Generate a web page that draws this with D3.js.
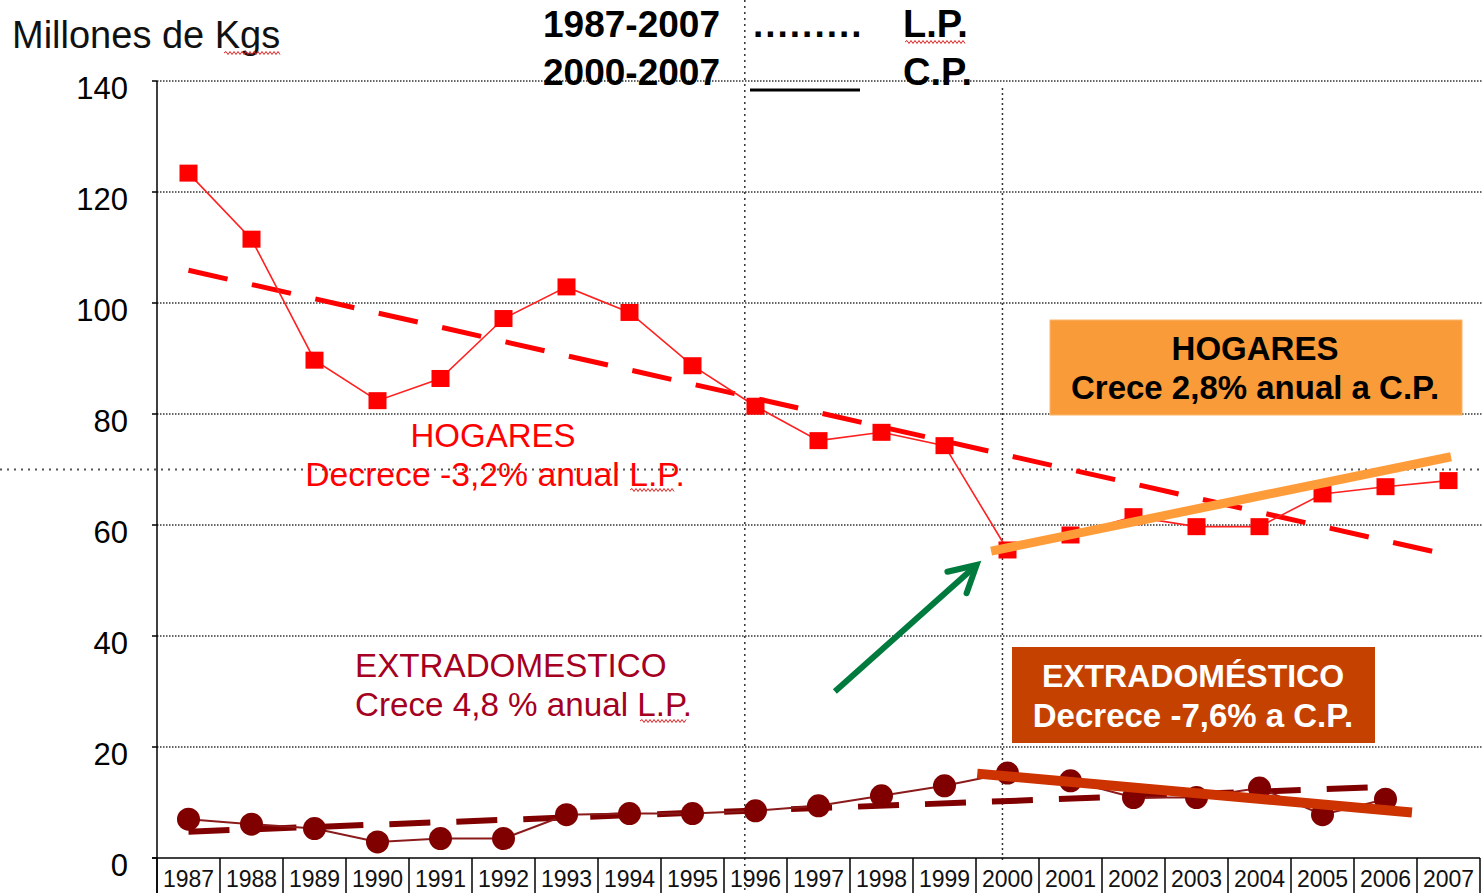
<!DOCTYPE html>
<html>
<head>
<meta charset="utf-8">
<script src="https://cdn.jsdelivr.net/npm/d3@7"></script>
<style>
  html, body { margin: 0; padding: 0; background: #fff; }
  svg { display: block; font-family: "Liberation Sans", Arial, sans-serif; }
</style>
</head>
<body>
<svg id="chart" width="1483" height="893"></svg>
<script>
// ---------------- DATA ----------------
const years = ["1987","1988","1989","1990","1991","1992","1993","1994","1995","1996","1997",
               "1998","1999","2000","2001","2002","2003","2004","2005","2006","2007"];
const hogares = [123.4,111.5,89.7,82.4,86.4,97.2,102.9,98.3,88.7,81.4,75.2,
                 76.7,74.3,55.5,58.2,61.5,59.7,59.7,65.6,66.9,68.0];
const extradomestico = [7.0,6.1,5.3,2.9,3.5,3.5,7.8,8.0,8.0,8.5,9.4,
                        11.2,13.0,15.3,13.9,10.9,10.9,12.6,7.8,10.6,null];
const yTicks = [0,20,40,60,80,100,120,140];
// trend lines [year, value]
const hogaresLP = [[1987,105.9],[2007,54.6]];
const hogaresCP = [[1999.74,55.3],[2007.04,72.3]];
const extraLP = [[1987,4.75],[2006.1,12.85]];
const extraCP = [[1999.52,15.2],[2006.42,8.2]];
// annotation positions in data units [year, value]
const arrowTail = [1997.26, 30.0];
const arrowTip = [1999.51, 52.8];
const refLineValue = 70;
const refYears = [1995.83, 1999.92];

(function () {
// ---------------- SCALES ----------------
const svg = d3.select("#chart");
const W = 1483, H = 893;
const pLeft = 157, pRight = 1480, pTop = 81, pBottom = 858;

const x = d3.scaleBand().domain(years).range([pLeft, pRight]).padding(0);
const bw = x.bandwidth();
const xl = d3.scaleLinear().domain([1987, 2007])
  .range([x("1987") + bw / 2, x("2007") + bw / 2]);
const y = d3.scaleLinear().domain([0, 140]).range([pBottom, pTop]);

// ---------------- GRID ----------------
svg.append("g").selectAll("line").data(yTicks.filter(d => d > 0)).join("line")
  .attr("x1", pLeft).attr("x2", W)
  .attr("y1", d => y(d)).attr("y2", d => y(d))
  .attr("stroke", "#333").attr("stroke-width", 1.5)
  .attr("stroke-dasharray", "1.5,1.5");

// reference horizontal line (70)
svg.append("line")
  .attr("x1", 0).attr("x2", W)
  .attr("y1", y(refLineValue)).attr("y2", y(refLineValue))
  .attr("stroke", "#555").attr("stroke-width", 2)
  .attr("stroke-dasharray", "2,5");

// vertical dotted reference lines
svg.append("line")
  .attr("x1", xl(refYears[0])).attr("x2", xl(refYears[0]))
  .attr("y1", 0).attr("y2", H)
  .attr("stroke", "#333").attr("stroke-width", 1.5)
  .attr("stroke-dasharray", "2,4");
svg.append("line")
  .attr("x1", xl(refYears[1])).attr("x2", xl(refYears[1]))
  .attr("y1", 88).attr("y2", pBottom + 3)
  .attr("stroke", "#333").attr("stroke-width", 1.5)
  .attr("stroke-dasharray", "2,3");

// ---------------- AXES ----------------
const ax = svg.append("g").attr("stroke", "#000").attr("stroke-width", 1.5);
ax.append("line").attr("x1", pLeft).attr("x2", pLeft).attr("y1", pTop).attr("y2", H);
ax.append("line").attr("x1", pLeft - 5).attr("x2", pRight).attr("y1", pBottom).attr("y2", pBottom);
ax.selectAll(".tk").data(yTicks).join("line")
  .attr("x1", pLeft - 5).attr("x2", pLeft)
  .attr("y1", d => y(d)).attr("y2", d => y(d));
// category box separators
ax.selectAll(".sep").data(years.concat(["end"])).join("line")
  .attr("x1", (d, i) => pLeft + i * bw).attr("x2", (d, i) => pLeft + i * bw)
  .attr("y1", pBottom).attr("y2", H);

svg.append("g").selectAll("text").data(yTicks).join("text")
  .attr("x", 128).attr("y", d => y(d) + 18)
  .attr("text-anchor", "end")
  .attr("font-size", 31).attr("fill", "#000")
  .text(d => d);

svg.append("g").selectAll("text").data(years).join("text")
  .attr("x", d => x(d) + bw / 2).attr("y", 887)
  .attr("text-anchor", "middle")
  .attr("font-size", 23).attr("fill", "#111")
  .text(d => d);

// ---------------- TREND LP (dashed) ----------------
const tl = d3.line().x(d => xl(d[0])).y(d => y(d[1]));
svg.append("path").attr("d", tl(hogaresLP))
  .attr("fill", "none").attr("stroke", "#FF0000").attr("stroke-width", 5)
  .attr("stroke-dasharray", "40,25");
svg.append("path").attr("d", tl(extraLP))
  .attr("fill", "none").attr("stroke", "#800000").attr("stroke-width", 6)
  .attr("stroke-dasharray", "41,26");

// ---------------- DATA LINES ----------------
const dl = d3.line()
  .defined(d => d[1] != null)
  .x(d => x(d[0]) + bw / 2).y(d => y(d[1]));
svg.append("path").attr("d", dl(years.map((yr, i) => [yr, hogares[i]])))
  .attr("fill", "none").attr("stroke", "#FF2020").attr("stroke-width", 1.6);
svg.append("path").attr("d", dl(years.map((yr, i) => [yr, extradomestico[i]])))
  .attr("fill", "none").attr("stroke", "#8B1A1A").attr("stroke-width", 2);

// markers
svg.append("g").selectAll("rect").data(years.map((yr, i) => [yr, hogares[i]])).join("rect")
  .attr("x", d => x(d[0]) + bw / 2 - 9).attr("y", d => y(d[1]) - 8.5)
  .attr("width", 18).attr("height", 17)
  .attr("fill", "#FF0000");
svg.append("g").selectAll("circle")
  .data(years.map((yr, i) => [yr, extradomestico[i]]).filter(d => d[1] != null)).join("circle")
  .attr("cx", d => x(d[0]) + bw / 2).attr("cy", d => y(d[1]))
  .attr("r", 11.5).attr("fill", "#800000");

// ---------------- TREND CP (solid thick) ----------------
svg.append("path").attr("d", tl(hogaresCP))
  .attr("fill", "none").attr("stroke", "#FF9C3A").attr("stroke-width", 9);
svg.append("path").attr("d", tl(extraCP))
  .attr("fill", "none").attr("stroke", "#CC3300").attr("stroke-width", 10);

// ---------------- ANNOTATIONS ----------------
function wavy(x1, x2, yy) {
  let p = `M${x1},${yy}`;
  let up = true;
  for (let xx = x1 + 2; xx <= x2; xx += 2) {
    p += `L${xx},${yy + (up ? -1.5 : 1.5)}`;
    up = !up;
  }
  svg.append("path").attr("d", p).attr("fill", "none")
    .attr("stroke", "#E02020").attr("stroke-width", 1);
}

// title / unit
svg.append("text").attr("x", 12).attr("y", 48)
  .attr("font-size", 38).attr("fill", "#111").text("Millones de Kgs");
wavy(224, 281, 53);

// legend
const lg = svg.append("g").attr("font-weight", "bold").attr("font-size", 37).attr("fill", "#000");
lg.append("text").attr("x", 720).attr("y", 37).attr("text-anchor", "end").text("1987-2007");
lg.append("text").attr("x", 720).attr("y", 85).attr("text-anchor", "end").text("2000-2007");
lg.append("text").attr("x", 753).attr("y", 37).attr("letter-spacing", 2).text(".........");
lg.append("text").attr("x", 903).attr("y", 37).attr("font-size", 38).text("L.P.");
lg.append("text").attr("x", 903).attr("y", 85).attr("font-size", 38).text("C.P.");
svg.append("line").attr("x1", 750).attr("x2", 860).attr("y1", 90).attr("y2", 90)
  .attr("stroke", "#000").attr("stroke-width", 3);
wavy(905, 965, 42);

// HOGARES label
svg.append("text").attr("x", 493).attr("y", 447).attr("text-anchor", "middle")
  .attr("font-size", 33).attr("fill", "#FF0000").text("HOGARES");
svg.append("text").attr("x", 495).attr("y", 486).attr("text-anchor", "middle")
  .attr("font-size", 33.7).attr("fill", "#FF0000").text("Decrece -3,2% anual L.P.");
wavy(630, 674, 490);

// EXTRADOMESTICO label
svg.append("text").attr("x", 355).attr("y", 677)
  .attr("font-size", 33.2).attr("fill", "#A50021").text("EXTRADOMESTICO");
svg.append("text").attr("x", 355).attr("y", 716)
  .attr("font-size", 33.2).attr("fill", "#A50021").text("Crece 4,8 % anual L.P.");
wavy(640, 686, 721);

// orange box
const bx1 = svg.append("g");
bx1.append("rect").attr("x", 1050).attr("y", 320).attr("width", 412).attr("height", 95)
  .attr("fill", "#F99B38").attr("stroke", "#FBB66A").attr("stroke-width", 1);
bx1.append("text").attr("x", 1255).attr("y", 360).attr("text-anchor", "middle")
  .attr("font-weight", "bold").attr("font-size", 33).attr("fill", "#000").text("HOGARES");
bx1.append("text").attr("x", 1255).attr("y", 399).attr("text-anchor", "middle")
  .attr("font-weight", "bold").attr("font-size", 33).attr("fill", "#000").text("Crece 2,8% anual a C.P.");

// dark orange box
const bx2 = svg.append("g");
bx2.append("rect").attr("x", 1012).attr("y", 647).attr("width", 363).attr("height", 96)
  .attr("fill", "#C44100");
bx2.append("text").attr("x", 1193).attr("y", 687).attr("text-anchor", "middle")
  .attr("font-weight", "bold").attr("font-size", 32).attr("fill", "#fff").text("EXTRADOMÉSTICO");
bx2.append("text").attr("x", 1193).attr("y", 727).attr("text-anchor", "middle")
  .attr("font-weight", "bold").attr("font-size", 33).attr("fill", "#fff").text("Decrece -7,6% a C.P.");

// green arrow
const tx = xl(arrowTail[0]), ty = y(arrowTail[1]);
const hx = xl(arrowTip[0]), hy = y(arrowTip[1]);
const ang = Math.atan2(hy - ty, hx - tx);
const ah = 30, spread = 0.5;
const ag = svg.append("g").attr("stroke", "#007A3D").attr("stroke-width", 6)
  .attr("stroke-linecap", "round").attr("fill", "none");
ag.append("line").attr("x1", tx).attr("y1", ty).attr("x2", hx - 3 * Math.cos(ang)).attr("y2", hy - 3 * Math.sin(ang))
  .attr("stroke-linecap", "butt");
ag.append("path").attr("d",
  `M${hx - ah * Math.cos(ang - spread)},${hy - ah * Math.sin(ang - spread)}L${hx},${hy}L${hx - ah * Math.cos(ang + spread)},${hy - ah * Math.sin(ang + spread)}`)
  .attr("stroke-linejoin", "miter");
})();
</script>
</body>
</html>
